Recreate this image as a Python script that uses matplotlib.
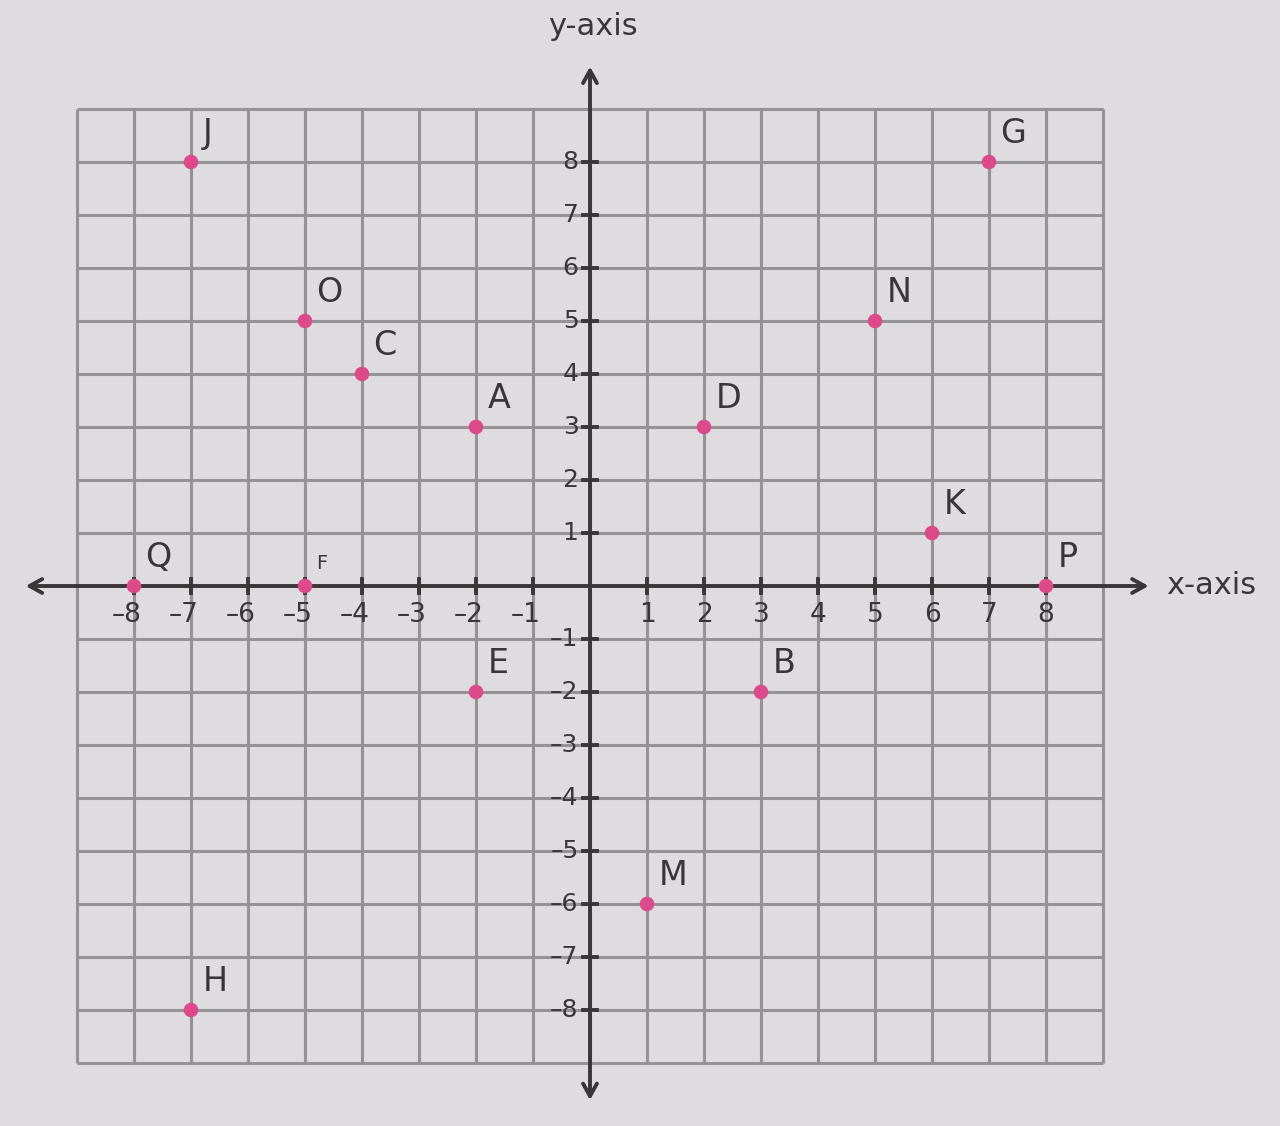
"""coordinate plane with labelled points"""
import numpy as np
from matplotlib import pyplot as plt

# points
names = ['J', 'G', 'O', 'C', 'N', 'A', 'D', 'K', 'Q', 'F', 'P', 'E', 'B', 'M', 'H']
xs = [-7, 7, -5, -4, 5, -2, 2, 6, -8, -5, 8, -2, 3, 1, -7]
ys = [8, 8, 5, 4, 5, 3, 3, 1, 0, 0, 0, -2, -2, -6, -8]
ticks = [-8, -7, -6, -5, -4, -3, -2, -1, 1, 2, 3, 4, 5, 6, 7, 8]

paper = '#dedcdf'
gridc = '#949295'
inkc = '#3b3538'
pink = '#dc4a8c'

fig = plt.figure(figsize=(12.8, 11.26), dpi=100)
fig.patch.set_facecolor(paper)
ax = fig.add_axes([0, 0, 1, 1])
ax.set_facecolor(paper)
ux, uy = 57.0, 53.0  # pixels per unit
ox, oy = 590, 586    # origin in pixels (from top left)
ax.set_xlim(-ox / ux, (1280 - ox) / ux)
ax.set_ylim(-(1126 - oy) / uy, oy / uy)
ax.axis('off')

# grid
g = np.arange(-9, 10)
ax.vlines(g, -9, 9, color=gridc, lw=2.2, zorder=1)
ax.hlines(g, -9, 9, color=gridc, lw=2.2, zorder=1)

# axes with arrows
arrow = dict(arrowstyle='<->,head_length=0.9,head_width=0.5', color=inkc, lw=2.8,
             shrinkA=0, shrinkB=0)
ax.annotate('', xy=(-9.9, 0), xytext=(9.8, 0), arrowprops=arrow, zorder=3)
ax.annotate('', xy=(0, -9.7), xytext=(0, 9.8), arrowprops=arrow, zorder=3)

# tick marks and labels
for t in ticks:
    ax.plot([t, t], [-0.13, 0.13], color=inkc, lw=2.8, zorder=3)
    ax.plot([-0.13, 0.13], [t, t], color=inkc, lw=2.8, zorder=3)
    lab = str(t).replace('-', '\u2013')
    shift = -0.12 if t < 0 else 0.0
    ax.text(t + shift, -0.3, lab, ha='center', va='top', fontsize=19, color=inkc,
            zorder=4)
    ax.text(-0.2, t, lab, ha='right', va='center', fontsize=18, color=inkc,
            zorder=4)

ax.text(0.05, 10.55, 'y-axis', ha='center', va='center', fontsize=22, color=inkc)
ax.text(10.1, 0.0, 'x-axis', ha='left', va='center', fontsize=22, color=inkc)

# points
ax.scatter(xs, ys, s=110, color=pink, zorder=5, edgecolors='none')
for n, x, y in zip(names, xs, ys):
    size = 14 if n == 'F' else 24
    dy = 0.25 if n == 'F' else 0.22
    ax.text(x + 0.2, y + dy, n, ha='left', va='bottom', fontsize=size, color=inkc,
            zorder=6)

plt.savefig('out.png', dpi=100, facecolor=paper)
